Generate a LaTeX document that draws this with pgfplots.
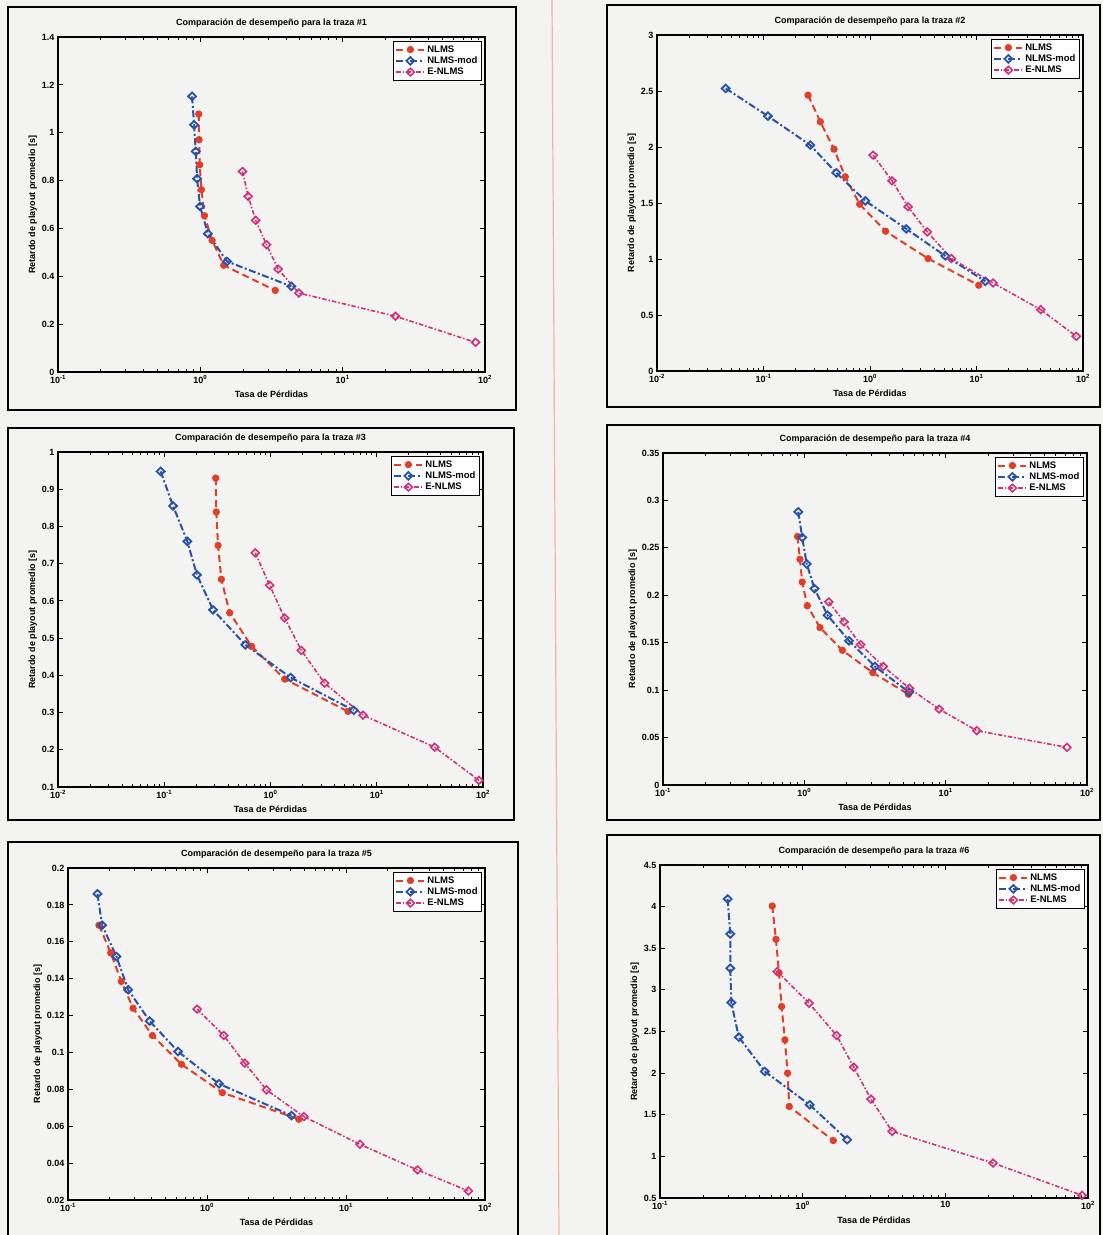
\documentclass[border=0pt]{standalone}
\usepackage{fontspec}
\setmainfont{Liberation Sans}
\usepackage{pgfplots}
\pgfplotsset{compat=1.18}

\definecolor{cNLMS}{RGB}{226,62,40}
\definecolor{cMOD}{RGB}{40,82,170}
\definecolor{cE}{RGB}{210,48,120}
\definecolor{paper}{RGB}{243,243,241}
\definecolor{seam}{RGB}{246,178,160}

\pgfplotsset{
  legend image code/.code={\draw[mark repeat=2,mark phase=2,#1] plot coordinates {(0pt,0pt)(14pt,0pt)(28pt,0pt)};},
  every axis/.append style={
    scale only axis,
    axis line style={black, line width=1.1pt},
    axis background/.style={fill=paper},
    tick align=inside, xtick pos=both, ytick pos=both,
    tick style={black, line width=0.9pt},
    major tick length=5pt, minor tick length=3pt,
    minor y tick num=0,
    scaled y ticks=false,
    yticklabel style={/pgf/number format/fixed, /pgf/number format/precision=3, /pgf/number format/assume math mode=true},
    ticklabel style={font=\bfseries\fontsize{9}{10}\selectfont},
    xtick={0.01,0.1,1,10,100},
    title style={font=\bfseries\fontsize{9}{10}\selectfont, at={(0.5,1)}, anchor=south, yshift=1pt, inner sep=2pt},
    label style={font=\bfseries\fontsize{9}{10}\selectfont},
    xlabel={Tasa de Pérdidas},
    ylabel={Retardo de playout promedio [s]},
    ylabel style={yshift=-2pt},
    legend style={at={(0.993,0.988)}, anchor=north east, draw=black, line width=1pt,
      fill=white, font=\bfseries\fontsize{9.5}{10.5}\selectfont, inner sep=2pt, row sep=-1pt},
    legend cell align=left,
  },
  snlms/.style={color=cNLMS, line width=2pt, dash pattern=on 7pt off 4pt, mark=*, mark size=2.6pt, mark options={solid}},
  smod/.style={color=cMOD, line width=2pt, dash pattern=on 7pt off 2.5pt on 2pt off 2.5pt, mark=diamond, mark size=3.8pt, mark options={solid, xscale=1.4, line width=1.8pt}},
  se/.style={color=cE, line width=1.6pt, dash pattern=on 4.5pt off 2pt on 1.5pt off 2pt, mark=diamond, mark size=3.8pt, mark options={solid, xscale=1.4, line width=1.6pt}},
}

\begin{document}
\begin{tikzpicture}
\useasboundingbox (0,0) rectangle (1103pt,-1235pt);
\fill[paper] (0,0) rectangle (1103pt,-1235pt);
\draw[seam, line width=1.2pt] (552pt,0pt) -- (559pt,-1235pt);
% frames
\draw[black, line width=2.5pt] (8pt,-7pt) rectangle (516pt,-410pt);
\draw[black, line width=2.5pt] (607pt,-5pt) rectangle (1100pt,-407pt);
\draw[black, line width=2.5pt] (8pt,-428pt) rectangle (514pt,-820pt);
\draw[black, line width=2.5pt] (607pt,-425pt) rectangle (1100pt,-820pt);
\draw[black, line width=2.5pt] (8pt,-842pt) rectangle (518pt,-1245pt);
\draw[black, line width=2.5pt] (607pt,-835pt) rectangle (1100pt,-1245pt);

% ---- traza 1
\begin{semilogxaxis}[at={(58pt,-372pt)}, anchor=south west, width=427pt, height=335pt,
  xmin=0.1, xmax=100, ymin=0, ymax=1.4, ytick={0,0.2,...,1.4},
  xticklabels={,10\textsuperscript{-1},10\textsuperscript{0},10\textsuperscript{1},10\textsuperscript{2}},
  title={Comparación de desempeño para la traza \#1}]
\addplot[snlms] coordinates {(0.975,1.078)(0.98,0.971)(0.99,0.866)(1.018,0.762)(1.07,0.653)(1.21,0.550)(1.46,0.446)(3.36,0.341)};
\addplot[smod] coordinates {(0.875,1.152)(0.904,1.033)(0.929,0.922)(0.949,0.808)(0.996,0.692)(1.13,0.578)(1.54,0.462)(4.36,0.358)};
\addplot[se] coordinates {(1.98,0.838)(2.17,0.734)(2.45,0.634)(2.92,0.532)(3.52,0.430)(4.92,0.330)(23.5,0.233)(85.9,0.124)};
\legend{NLMS,NLMS-mod,E-NLMS}
\end{semilogxaxis}

% ---- traza 2
\begin{semilogxaxis}[at={(657pt,-371pt)}, anchor=south west, width=426pt, height=336pt,
  xmin=0.01, xmax=100, ymin=0, ymax=3, ytick={0,0.5,...,3},
  xticklabels={10\textsuperscript{-2},10\textsuperscript{-1},10\textsuperscript{0},10\textsuperscript{1},10\textsuperscript{2}},
  title={Comparación de desempeño para la traza \#2}]
\addplot[snlms] coordinates {(0.262,2.463)(0.342,2.225)(0.459,1.981)(0.586,1.734)(0.80,1.489)(1.40,1.248)(3.51,1.004)(10.5,0.766)};
\addplot[smod] coordinates {(0.0442,2.523)(0.110,2.276)(0.275,2.017)(0.483,1.769)(0.904,1.519)(2.19,1.269)(5.09,1.028)(12.1,0.801)};
\addplot[se] coordinates {(1.07,1.927)(1.61,1.698)(2.28,1.466)(3.45,1.242)(5.81,1.004)(14.3,0.786)(40.1,0.548)(86.5,0.310)};
\legend{NLMS,NLMS-mod,E-NLMS}
\end{semilogxaxis}

% ---- traza 3
\begin{semilogxaxis}[at={(58pt,-787pt)}, anchor=south west, width=425pt, height=335pt,
  xmin=0.01, xmax=100, ymin=0.1, ymax=1, ytick={0.1,0.2,...,1},
  xticklabels={10\textsuperscript{-2},10\textsuperscript{-1},10\textsuperscript{0},10\textsuperscript{1},10\textsuperscript{2}},
  title={Comparación de desempeño para la traza \#3}]
\addplot[snlms] coordinates {(0.305,0.930)(0.309,0.839)(0.321,0.749)(0.345,0.658)(0.413,0.568)(0.665,0.478)(1.36,0.390)(5.36,0.303)};
\addplot[smod] coordinates {(0.0925,0.948)(0.121,0.855)(0.165,0.760)(0.203,0.670)(0.288,0.576)(0.580,0.482)(1.55,0.394)(6.07,0.306)};
\addplot[se] coordinates {(0.719,0.729)(0.982,0.642)(1.36,0.554)(1.95,0.467)(3.23,0.379)(7.43,0.293)(35.1,0.207)(91.6,0.118)};
\legend{NLMS,NLMS-mod,E-NLMS}
\end{semilogxaxis}

% ---- traza 4
\begin{semilogxaxis}[at={(663pt,-785pt)}, anchor=south west, width=424pt, height=332pt,
  xmin=0.1, xmax=100, ymin=0, ymax=0.35, ytick={0,0.05,...,0.35},
  xticklabels={,10\textsuperscript{-1},10\textsuperscript{0},10\textsuperscript{1},10\textsuperscript{2}},
  title={Comparación de desempeño para la traza \#4}]
\addplot[snlms] coordinates {(0.895,0.262)(0.931,0.238)(0.966,0.214)(1.05,0.189)(1.29,0.166)(1.86,0.142)(3.05,0.1185)(5.45,0.0957)};
\addplot[smod] coordinates {(0.906,0.288)(0.966,0.261)(1.04,0.233)(1.18,0.207)(1.46,0.179)(2.07,0.152)(3.16,0.125)(5.51,0.0978)};
\addplot[se] coordinates {(1.49,0.193)(1.91,0.172)(2.50,0.148)(3.62,0.125)(5.54,0.102)(8.99,0.080)(16.6,0.0573)(72.1,0.0397)};
\legend{NLMS,NLMS-mod,E-NLMS}
\end{semilogxaxis}

% ---- traza 5
\begin{semilogxaxis}[at={(68pt,-1200pt)}, anchor=south west, width=417pt, height=332pt,
  xmin=0.1, xmax=100, ymin=0.02, ymax=0.2, ytick={0.02,0.04,...,0.2},
  xticklabels={,10\textsuperscript{-1},10\textsuperscript{0},10\textsuperscript{1},10\textsuperscript{2}},
  title={Comparación de desempeño para la traza \#5}]
\addplot[snlms] coordinates {(0.167,0.169)(0.203,0.154)(0.242,0.1385)(0.294,0.124)(0.405,0.1092)(0.655,0.0936)(1.29,0.0782)(4.58,0.0638)};
\addplot[smod] coordinates {(0.163,0.186)(0.176,0.169)(0.223,0.152)(0.271,0.134)(0.387,0.117)(0.619,0.1005)(1.22,0.083)(4.05,0.0658)};
\addplot[se] coordinates {(0.849,0.1235)(1.32,0.1092)(1.87,0.0942)(2.68,0.0797)(4.98,0.0652)(12.6,0.0502)(32.7,0.0363)(75.9,0.0249)};
\legend{NLMS,NLMS-mod,E-NLMS}
\end{semilogxaxis}

% ---- traza 6
\begin{semilogxaxis}[at={(660pt,-1198pt)}, anchor=south west, width=428pt, height=333pt,
  xmin=0.1, xmax=100, ymin=0.5, ymax=4.5, ytick={0.5,1,...,4.5},
  xticklabels={,10\textsuperscript{-1},10\textsuperscript{0},10,10\textsuperscript{2}},
  title={Comparación de desempeño para la traza \#6}]
\addplot[snlms] coordinates {(0.612,4.008)(0.650,3.608)(0.683,3.20)(0.712,2.80)(0.751,2.40)(0.784,2.00)(0.805,1.60)(1.64,1.19)};
\addplot[smod] coordinates {(0.298,4.092)(0.311,3.672)(0.311,3.26)(0.316,2.848)(0.357,2.432)(0.543,2.02)(1.12,1.62)(2.05,1.20)};
\addplot[se] coordinates {(0.664,3.22)(1.11,2.84)(1.73,2.452)(2.28,2.072)(3.01,1.688)(4.24,1.30)(21.6,0.92)(90.8,0.532)};
\legend{NLMS,NLMS-mod,E-NLMS}
\end{semilogxaxis}
\end{tikzpicture}
\end{document}
